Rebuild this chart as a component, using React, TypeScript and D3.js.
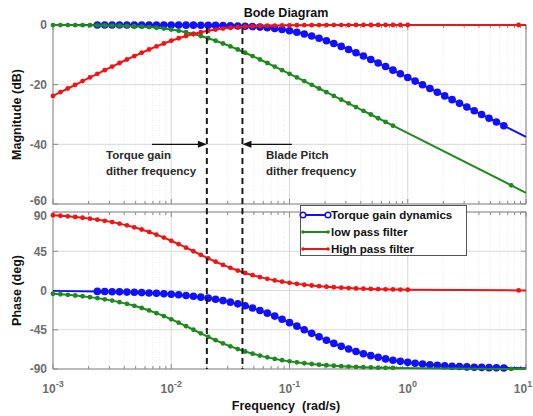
import React from 'react';
import * as d3 from 'd3';

// ---------- data ----------
const TITLE = 'Bode Diagram';
const X_LABEL = 'Frequency  (rad/s)';
const MAG_LABEL = 'Magnitude (dB)';
const PHASE_LABEL = 'Phase (deg)';
const MAG_TICKS = [0, -20, -40, -60];
const PHASE_TICKS = [90, 45, 0, -45, -90];
const FREQ_TICK_EXP = [-3, -2, -1, 0, 1];
const LEGEND_LABELS = ['Torque gain dynamics', 'low pass filter', 'High pass filter'];
const DITHER_FREQS = [0.02, 0.04];
const ANNOT_TORQUE = ['Torque gain', 'dither frequency'];
const ANNOT_BLADE = ['Blade Pitch', 'dither frequency'];

// Torque gain dynamics (log10 of rad/s)
const BLUE_LOGW = [-3,
  -2.625, -2.5625, -2.5, -2.4375, -2.375, -2.3125, -2.25, -2.1875, -2.125, -2.0625, -2, -1.9375, -1.875, -1.8125,
  -1.75, -1.6875, -1.625, -1.5625, -1.5, -1.4375, -1.375, -1.3125, -1.25, -1.1875, -1.125, -1.0625, -1, -0.9375,
  -0.875, -0.8125, -0.75, -0.6875, -0.625, -0.5625, -0.5, -0.4375, -0.375, -0.3125, -0.25, -0.1875, -0.125, -0.0625,
  0, 0.0625, 0.125, 0.1875, 0.25, 0.3125, 0.375, 0.4375, 0.5, 0.5625, 0.625, 0.6875, 0.75, 0.8125,
  1];
const BLUE_MAG = [0,
  -0.001, -0.002, -0.002, -0.003, -0.004, -0.006, -0.008, -0.010, -0.014, -0.018, -0.024, -0.032, -0.043, -0.058,
  -0.076, -0.102, -0.135, -0.179, -0.238, -0.314, -0.414, -0.544, -0.711, -0.924, -1.193, -1.528, -1.938, -2.430,
  -3.010, -3.680, -4.438, -5.278, -6.193, -7.174, -8.211, -9.294, -10.414, -11.564, -12.738, -13.929, -15.135, -16.352,
  -17.576, -18.808, -20.043, -21.282, -22.524, -23.768, -25.014, -26.260, -27.508, -28.756, -30.004, -31.253, -32.502, -33.752,
  -37.501];
const BLUE_PHASE = [-0.43,
  -1.02, -1.18, -1.36, -1.57, -1.81, -2.09, -2.41, -2.79, -3.22, -3.72, -4.29, -4.95, -5.71, -6.59,
  -7.60, -8.75, -10.08, -11.60, -13.34, -15.31, -17.55, -20.06, -22.87, -25.96, -29.35, -33.00, -36.87, -40.89,
  -45.00, -49.11, -53.13, -57.00, -60.65, -64.04, -67.13, -69.94, -72.45, -74.69, -76.66, -78.40, -79.92, -81.25,
  -82.40, -83.41, -84.29, -85.05, -85.71, -86.28, -86.78, -87.21, -87.59, -87.91, -88.19, -88.43, -88.64, -88.82,
  -89.24];

// low pass filter
const GREEN_LOGW = [
  -3, -2.9375, -2.875, -2.8125, -2.75, -2.6875, -2.625, -2.5625, -2.5, -2.4375, -2.375, -2.3125, -2.25, -2.1875,
  -2.125, -2.0625, -2, -1.9375, -1.875, -1.8125, -1.75, -1.6875, -1.625, -1.5625, -1.5, -1.4375, -1.375, -1.3125,
  -1.25, -1.1875, -1.125, -1.0625, -1, -0.9375, -0.875, -0.8125, -0.75, -0.6875, -0.625, -0.5625, -0.5, -0.4375,
  -0.375, -0.3125, -0.25, -0.1875, -0.125,
  0.875, 1];
const GREEN_MAG = [
  -0.018, -0.024, -0.032, -0.043, -0.058, -0.076, -0.102, -0.135, -0.179, -0.238, -0.314, -0.414, -0.544, -0.711,
  -0.924, -1.193, -1.528, -1.938, -2.430, -3.010, -3.680, -4.438, -5.278, -6.193, -7.174, -8.211, -9.294, -10.414,
  -11.564, -12.738, -13.929, -15.135, -16.352, -17.576, -18.808, -20.043, -21.282, -22.524, -23.768, -25.014, -26.260, -27.508,
  -28.756, -30.004, -31.253, -32.502, -33.752,
  -53.75, -56.25];
const GREEN_PHASE = [
  -3.72, -4.29, -4.95, -5.71, -6.59, -7.60, -8.75, -10.08, -11.60, -13.34, -15.31, -17.55, -20.06, -22.87,
  -25.96, -29.35, -33.00, -36.87, -40.89, -45.00, -49.11, -53.13, -57.00, -60.65, -64.04, -67.13, -69.94, -72.45,
  -74.69, -76.66, -78.40, -79.92, -81.25, -82.40, -83.41, -84.29, -85.05, -85.71, -86.28, -86.78, -87.21, -87.59,
  -87.91, -88.19, -88.43, -88.64, -88.82,
  -89.88, -89.91];

// High pass filter
const RED_LOGW = [
  -3, -2.9375, -2.875, -2.8125, -2.75, -2.6875, -2.625, -2.5625, -2.5, -2.4375, -2.375, -2.3125, -2.25, -2.1875,
  -2.125, -2.0625, -2, -1.9375, -1.875, -1.8125, -1.75, -1.6875, -1.625, -1.5625, -1.5, -1.4375, -1.375, -1.3125,
  -1.25, -1.1875, -1.125, -1.0625, -1, -0.9375, -0.875, -0.8125, -0.75, -0.6875, -0.625, -0.5625, -0.5, -0.4375,
  -0.375, -0.3125, -0.25, -0.1875, -0.125, -0.0625, 0,
  0.9375, 1];
const RED_MAG = [
  -23.768, -22.524, -21.282, -20.043, -18.808, -17.576, -16.352, -15.135, -13.929, -12.738, -11.564, -10.414, -9.294, -8.211,
  -7.174, -6.193, -5.278, -4.438, -3.680, -3.010, -2.430, -1.938, -1.528, -1.193, -0.924, -0.711, -0.544, -0.414,
  -0.314, -0.238, -0.179, -0.135, -0.102, -0.076, -0.058, -0.043, -0.032, -0.024, -0.018, -0.014, -0.010, -0.008,
  -0.006, -0.004, -0.003, -0.002, -0.002, -0.001, -0.001,
  0, 0];
const RED_PHASE = [
  86.28, 85.71, 85.05, 84.29, 83.41, 82.40, 81.25, 79.92, 78.40, 76.66, 74.69, 72.45, 69.94, 67.13,
  64.04, 60.65, 57.00, 53.13, 49.11, 45.00, 40.89, 36.87, 33.00, 29.35, 25.96, 22.87, 20.06, 17.55,
  15.31, 13.34, 11.60, 10.08, 8.75, 7.60, 6.59, 5.71, 4.95, 4.29, 3.72, 3.22, 2.79, 2.41,
  2.09, 1.81, 1.57, 1.36, 1.18, 1.02, 0.88,
  0.10, 0.09];

// ---------- layout / style ----------
const W = 533, H = 416;
const X0 = 53, X1 = 526;
const MAG_TOP = 25, MAG_BOT = 204;
const PH_TOP = 212, PH_BOT = 369;
const FONT = 'Liberation Sans, Arial, Helvetica, sans-serif';
const TICK_COLOR = '#6e6e6e';
const AXIS_COLOR = '#8a8a8a';

const SERIES = [
  { name: 'blue', color: '#1010ff', logw: BLUE_LOGW, mag: BLUE_MAG, phase: BLUE_PHASE, r: 3.8, mFrom: 1, mTo: BLUE_LOGW.length - 2 },
  { name: 'green', color: '#1e8a1e', logw: GREEN_LOGW, mag: GREEN_MAG, phase: GREEN_PHASE, r: 2.4, mFrom: 0, mTo: GREEN_LOGW.length - 2 },
  { name: 'red', color: '#f01414', logw: RED_LOGW, mag: RED_MAG, phase: RED_PHASE, r: 2.4, mFrom: 0, mTo: RED_LOGW.length - 2 },
];

export default function App() {
  const x = d3.scaleLog().domain([1e-3, 10]).range([X0, X1]);
  const yMag = d3.scaleLinear().domain([-60, 0]).range([MAG_BOT, MAG_TOP]);
  const yPh = d3.scaleLinear().domain([-90, 90]).range([PH_BOT, PH_TOP]);

  const minorTicks: number[] = [];
  FREQ_TICK_EXP.slice(0, -1).forEach((e) => {
    for (let m = 2; m <= 9; m++) minorTicks.push(m * Math.pow(10, e));
  });
  const majorTicks = FREQ_TICK_EXP.map((e) => Math.pow(10, e));

  const labelShift = (t: number, key: string) => {
    if (key === 'p2' && t === 90) return 4;
    if (key === 'p1' && t === -60) return -3;
    return 0;
  };

  const panel = (top: number, bot: number, yScale: any, yTicks: number[], key: string) => (
    <g key={key}>
      <rect x={X0} y={top} width={X1 - X0} height={bot - top} fill="#fff" />
      {minorTicks.map((t, i) => (
        <line key={'mg' + i} x1={x(t)} x2={x(t)} y1={top} y2={bot} stroke="#e4e4e4" strokeWidth={0.8} strokeDasharray="1,1.5" />
      ))}
      {majorTicks.map((t, i) => (
        <line key={'Mg' + i} x1={x(t)} x2={x(t)} y1={top} y2={bot} stroke="#d9d9d9" strokeWidth={1} />
      ))}
      {yTicks.map((t, i) => (
        <line key={'yg' + i} x1={X0} x2={X1} y1={yScale(t)} y2={yScale(t)} stroke="#d9d9d9" strokeWidth={1} />
      ))}
      {minorTicks.map((t, i) => (
        <g key={'mt' + i}>
          <line x1={x(t)} x2={x(t)} y1={bot} y2={bot - 3} stroke={AXIS_COLOR} />
          <line x1={x(t)} x2={x(t)} y1={top} y2={top + 3} stroke={AXIS_COLOR} />
        </g>
      ))}
      {majorTicks.map((t, i) => (
        <g key={'Mt' + i}>
          <line x1={x(t)} x2={x(t)} y1={bot} y2={bot - 5} stroke={AXIS_COLOR} />
          <line x1={x(t)} x2={x(t)} y1={top} y2={top + 5} stroke={AXIS_COLOR} />
        </g>
      ))}
      {yTicks.map((t, i) => (
        <g key={'yt' + i}>
          <line x1={X0} x2={X0 + 5} y1={yScale(t)} y2={yScale(t)} stroke={AXIS_COLOR} />
          <line x1={X1} x2={X1 - 5} y1={yScale(t)} y2={yScale(t)} stroke={AXIS_COLOR} />
          <text x={X0 - 6} y={yScale(t) + labelShift(t, key)} dy="0.36em" textAnchor="end" fontFamily={FONT} fontWeight="bold" fontSize={12} fill={TICK_COLOR}>{t}</text>
        </g>
      ))}
      <rect x={X0} y={top} width={X1 - X0} height={bot - top} fill="none" stroke={AXIS_COLOR} strokeWidth={1} />
    </g>
  );

  const curves = (yScale: any, field: 'mag' | 'phase', key: string) => (
    <g key={key}>
      {SERIES.map((s) => {
        const pts: [number, number][] = s.logw.map((lw, i) => [x(Math.pow(10, lw)), yScale(s[field][i])]);
        const line = d3.line().curve(d3.curveLinear)(pts) || '';
        return (
          <g key={s.name}>
            <path d={line} fill="none" stroke={s.color} strokeWidth={2} />
            {pts.map((p, i) => (i >= s.mFrom && i <= s.mTo ? (
              <circle key={i} cx={p[0]} cy={p[1]} r={s.r} fill={s.color} />
            ) : null))}
          </g>
        );
      })}
    </g>
  );

  const arrowY = yMag(-40);
  const xa = x(DITHER_FREQS[0]);
  const xb = x(DITHER_FREQS[1]);

  return (
    <svg width={W} height={H} style={{ position: 'absolute', left: 0, top: 0, background: '#fff' }}>
      <rect x={0} y={0} width={W} height={H} fill="#fff" />
      {panel(MAG_TOP, MAG_BOT, yMag, MAG_TICKS, 'p1')}
      {panel(PH_TOP, PH_BOT, yPh, PHASE_TICKS, 'p2')}
      {curves(yMag, 'mag', 'c1')}
      {curves(yPh, 'phase', 'c2')}

      {DITHER_FREQS.map((f, i) => (
        <line key={'d' + i} x1={x(f)} x2={x(f)} y1={MAG_TOP + 3} y2={PH_BOT} stroke="#1a1a1a" strokeWidth={2} strokeDasharray="6,4" />
      ))}

      <line x1={152} x2={xa - 7} y1={arrowY} y2={arrowY} stroke="#111" strokeWidth={1.3} />
      <path d={`M${xa},${arrowY} L${xa - 9},${arrowY - 3.5} L${xa - 9},${arrowY + 3.5} Z`} fill="#111" />
      <line x1={292} x2={xb + 7} y1={arrowY} y2={arrowY} stroke="#111" strokeWidth={1.3} />
      <path d={`M${xb},${arrowY} L${xb + 9},${arrowY - 3.5} L${xb + 9},${arrowY + 3.5} Z`} fill="#111" />
      {ANNOT_TORQUE.map((t, i) => (
        <text key={'at' + i} x={106} y={159 + i * 16} fontFamily={FONT} fontWeight="bold" fontSize={11.5} fill="#2a2a2a">{t}</text>
      ))}
      {ANNOT_BLADE.map((t, i) => (
        <text key={'ab' + i} x={266} y={159 + i * 16} fontFamily={FONT} fontWeight="bold" fontSize={11.5} fill="#2a2a2a">{t}</text>
      ))}

      {FREQ_TICK_EXP.map((e, i) => (
        <text key={'xl' + i} x={x(Math.pow(10, e)) - (i === FREQ_TICK_EXP.length - 1 ? 3 : 0)} y={393} textAnchor="middle" fontFamily={FONT} fontWeight="bold" fontSize={12} fill={TICK_COLOR}>
          <tspan>10</tspan>
          <tspan dy={-6} fontSize={9}>{e}</tspan>
        </text>
      ))}

      <text x={286} y={17} textAnchor="middle" fontFamily={FONT} fontWeight="bold" fontSize={12.5} fill="#111">{TITLE}</text>
      <text x={286} y={410} textAnchor="middle" fontFamily={FONT} fontWeight="bold" fontSize={12.5} fill="#111" style={{ whiteSpace: 'pre' }}>{X_LABEL}</text>
      <text transform={`translate(21,${(MAG_TOP + MAG_BOT) / 2}) rotate(-90)`} textAnchor="middle" fontFamily={FONT} fontWeight="bold" fontSize={12.5} fill="#111">{MAG_LABEL}</text>
      <text transform={`translate(21,${(PH_TOP + PH_BOT) / 2}) rotate(-90)`} textAnchor="middle" fontFamily={FONT} fontWeight="bold" fontSize={12.5} fill="#111">{PHASE_LABEL}</text>

      <g>
        <rect x={300.5} y={205.5} width={166} height={50} fill="#fff" stroke="#555" strokeWidth={1} />
        {SERIES.map((s, i) => {
          const ly = 215 + i * 17;
          return (
            <g key={'lg' + i}>
              <line x1={303} x2={328} y1={ly} y2={ly} stroke={s.color} strokeWidth={2} />
              {i === 0 ? (
                <>
                  <circle cx={303} cy={ly} r={2.8} fill="#fff" stroke={s.color} strokeWidth={1.5} />
                  <circle cx={328} cy={ly} r={2.8} fill="#fff" stroke={s.color} strokeWidth={1.5} />
                </>
              ) : (
                <>
                  <circle cx={303} cy={ly} r={1.8} fill={s.color} />
                  <circle cx={328} cy={ly} r={1.8} fill={s.color} />
                </>
              )}
              <text x={331} y={ly} dy="0.36em" fontFamily={FONT} fontWeight="bold" fontSize={11.5} fill="#111">{LEGEND_LABELS[i]}</text>
            </g>
          );
        })}
      </g>
    </svg>
  );
}
